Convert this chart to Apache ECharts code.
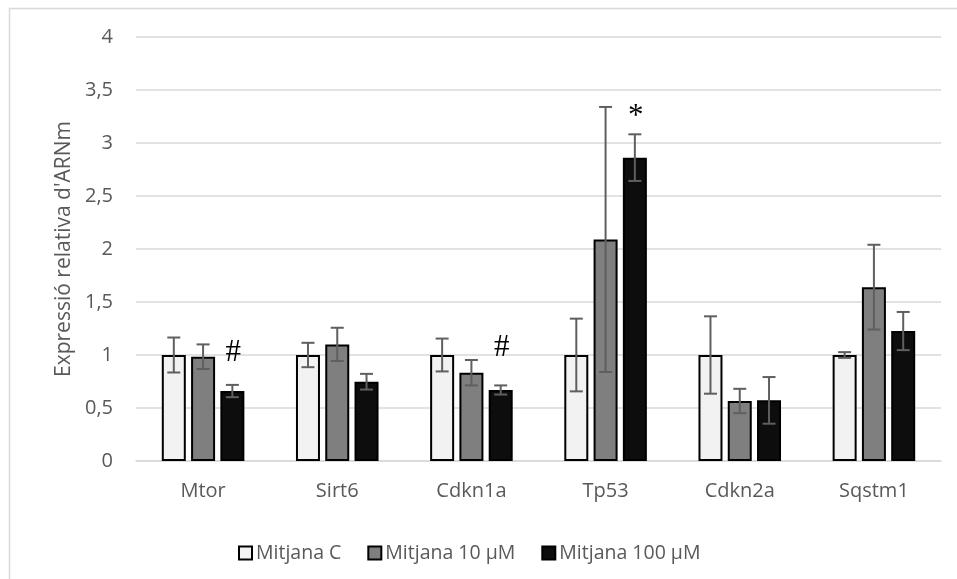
<!DOCTYPE html>
<html>
<head>
<meta charset="utf-8">
<script src="https://cdn.jsdelivr.net/npm/echarts@6/dist/echarts.min.js"></script>
<style>
  html, body { margin: 0; padding: 0; background: #fff; }
  #chart { width: 957px; height: 579px; }
</style>
</head>
<body>
<div id="chart"></div>
<script>
const categories = ['Mtor', 'Sirt6', 'Cdkn1a', 'Tp53', 'Cdkn2a', 'Sqstm1']
const seriesNames = ['Mitjana C', 'Mitjana 10 µM', 'Mitjana 100 µM']

// mean relative expression per gene
const meanC = [1.0, 1.0, 1.0, 1.0, 1.0, 1.0]
const mean10 = [0.984, 1.10, 0.833, 2.09, 0.566, 1.64]
const mean100 = [0.66, 0.748, 0.67, 2.862, 0.572, 1.226]

// error bar half-width (symmetric)
const errC = [0.165, 0.115, 0.155, 0.343, 0.365, 0.027]
const err10 = [0.116, 0.157, 0.12, 1.25, 0.115, 0.40]
const err100 = [0.058, 0.074, 0.043, 0.22, 0.22, 0.18]

// significance marks on the 100 µM bars and the value they sit at
const marks100 = ['#', '', '#', '*', '', '']
const marks100At = [1.02, null, 1.066, 3.25, null, null]

const yTicks = { min: 0, max: 4, interval: 0.5 }

const means = [meanC, mean10, mean100]
const errs = [errC, err10, err100]
const fills = ['#f2f2f2', '#7f7f7f', '#0d0d0d']

const BAR_W = 24
const BAR_GAP = 0.22
const STEP = BAR_W * (1 + BAR_GAP)
const FONT = '"Open Sans", sans-serif'
const TEXT = '#595959'
const GRID = '#d9d9d9'

function errorBars(k) {
  const offset = (k - 1) * STEP
  const marks = k === 2 ? marks100 : null
  return {
    name: '__err' + k,
    type: 'custom',
    silent: true,
    z: 5,
    data: categories.map((_, i) => [i, means[k][i] - errs[k][i], means[k][i] + errs[k][i]]),
    encode: { x: 0, y: [1, 2] },
    renderItem: (params, api) => {
      const i = api.value(0)
      const lo = api.coord([i, api.value(1)])
      const hi = api.coord([i, api.value(2)])
      const x = lo[0] + offset
      const style = { stroke: '#5f5f5f', lineWidth: 2 }
      const children = [
        { type: 'line', shape: { x1: x, y1: lo[1], x2: x, y2: hi[1] }, style },
        { type: 'line', shape: { x1: x - 6.5, y1: lo[1], x2: x + 6.5, y2: lo[1] }, style },
        { type: 'line', shape: { x1: x - 6.5, y1: hi[1], x2: x + 6.5, y2: hi[1] }, style },
      ]
      if (marks && marks[params.dataIndex]) {
        const p = api.coord([i, marks100At[params.dataIndex]])
        children.push({
          type: 'text',
          style: {
            x: x + 1, y: p[1], text: marks[params.dataIndex],
            font: '31px "Liberation Serif", serif', fill: '#000',
            align: 'center', verticalAlign: 'middle',
          },
        })
      }
      return { type: 'group', children }
    },
  }
}

const chart = echarts.init(document.getElementById('chart'))

chart.setOption({
  animation: false,
  backgroundColor: '#fff',
  textStyle: { fontFamily: FONT },
  graphic: [
    {
      type: 'rect',
      shape: { x: 9.5, y: 8.5, width: 1000, height: 1000 },
      style: { fill: 'none', stroke: GRID, lineWidth: 1.5 },
      silent: true,
    },
  ],
  grid: { left: 136, right: 16, top: 37, bottom: 118 },
  legend: {
    data: seriesNames,
    icon: 'rect',
    left: 233,
    top: 538,
    itemWidth: 13,
    itemHeight: 13,
    itemGap: 26,
    textStyle: { color: TEXT, fontSize: 19.5, fontFamily: FONT, padding: [0, 0, 0, -1] },
  },
  xAxis: {
    type: 'category',
    data: categories,
    axisLine: { lineStyle: { color: GRID, width: 1.5 } },
    axisTick: { show: false },
    axisLabel: { color: TEXT, fontSize: 20, margin: 20 },
  },
  yAxis: {
    type: 'value',
    ...yTicks,
    name: "Expressió relativa d'ARNm",
    nameLocation: 'middle',
    nameGap: 54,
    nameTextStyle: { color: TEXT, fontSize: 21, fontFamily: FONT },
    axisLine: { show: false },
    axisTick: { show: false },
    axisLabel: { color: TEXT, fontSize: 20, margin: 23, formatter: (v) => String(v).replace('.', ',') },
    splitLine: { lineStyle: { color: GRID, width: 1.5 } },
  },
  series: [
    ...seriesNames.map((name, k) => ({
      name,
      type: 'bar',
      data: means[k],
      barWidth: BAR_W,
      barGap: (BAR_GAP * 100) + '%',
      itemStyle: { color: fills[k], borderColor: '#000', borderWidth: 2 },
    })),
    errorBars(0),
    errorBars(1),
    errorBars(2),
  ],
})
</script>
</body>
</html>
